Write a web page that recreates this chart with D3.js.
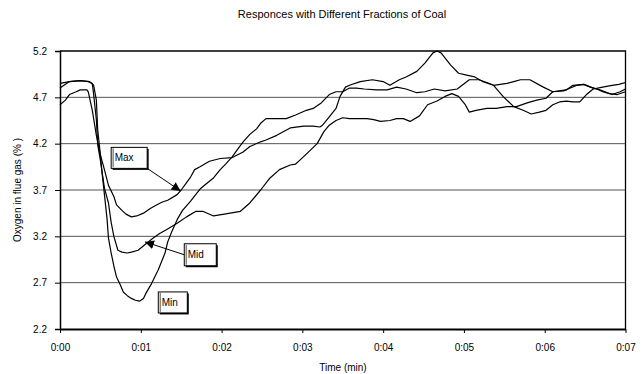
<!DOCTYPE html>
<html>
<head>
<meta charset="utf-8">
<script src="https://cdn.jsdelivr.net/npm/d3@7"></script>
<style>
  body { margin: 0; background: #fff; }
  text { font-family: "Liberation Sans", Arial, sans-serif; fill: #000; }
</style>
</head>
<body>
<div id="chart"></div>
<script>
// [seconds, O2 %]
const maxSeries = [[0,4.62],[4,4.67],[7,4.73],[12,4.76],[15,4.78],[20,4.78],[21,4.76],[24,4.56],[27,4.29],[30,4.08],[33,3.92],[36,3.75],[40,3.63],[42,3.54],[46,3.48],[49,3.44],[53,3.41],[57,3.42],[62,3.45],[67,3.50],[72,3.54],[76,3.57],[80,3.59],[87,3.65],[90,3.70],[94,3.78],[97,3.84],[100,3.92],[104,3.95],[111,4.01],[119,4.04],[128,4.05],[136,4.11],[141,4.17],[149,4.22],[153,4.24],[161,4.29],[171,4.37],[181,4.39],[188,4.39],[193,4.38],[195,4.40],[200,4.49],[205,4.58],[208,4.71],[212,4.81],[215,4.83],[223,4.87],[232,4.89],[240,4.87],[245,4.83],[252,4.89],[257,4.92],[265,4.98],[271,5.07],[277,5.18],[280,5.20],[283,5.18],[290,5.05],[296,4.96],[302,4.94],[308,4.92],[314,4.87],[322,4.83],[329,4.71],[337,4.60],[344,4.56],[350,4.52],[356,4.54],[361,4.56],[366,4.62],[371,4.65],[376,4.66],[381,4.65],[386,4.65],[391,4.73],[396,4.79],[403,4.81],[410,4.83],[415,4.84],[420,4.86]];

const midSeries = [[0,4.85],[7,4.87],[15,4.88],[21,4.87],[24,4.85],[25,4.73],[27,4.46],[28,4.19],[30,4.02],[31,3.92],[33,3.72],[36,3.56],[38,3.35],[40,3.20],[43,3.05],[46,3.03],[50,3.02],[53,3.03],[58,3.05],[63,3.11],[69,3.18],[74,3.23],[79,3.27],[87,3.34],[94,3.41],[101,3.47],[106,3.47],[114,3.42],[122,3.44],[134,3.47],[141,3.56],[149,3.70],[156,3.83],[163,3.92],[171,3.97],[175,3.98],[178,4.02],[186,4.13],[191,4.20],[196,4.33],[200,4.40],[205,4.45],[210,4.48],[215,4.47],[228,4.47],[233,4.46],[238,4.44],[245,4.45],[250,4.47],[255,4.47],[260,4.44],[267,4.50],[273,4.62],[280,4.66],[286,4.71],[291,4.74],[296,4.71],[301,4.62],[304,4.54],[309,4.56],[317,4.58],[324,4.58],[332,4.60],[339,4.60],[347,4.64],[354,4.67],[361,4.69],[366,4.76],[374,4.77],[379,4.80],[384,4.83],[389,4.84],[394,4.81],[399,4.79],[403,4.76],[408,4.74],[414,4.73],[420,4.76]];

const minSeries = [[0,4.80],[7,4.87],[15,4.88],[22,4.87],[25,4.83],[27,4.67],[28,4.35],[30,4.08],[31,3.92],[33,3.65],[35,3.38],[36,3.18],[38,3.02],[40,2.88],[42,2.76],[45,2.67],[47,2.60],[50,2.56],[53,2.53],[56,2.51],[59,2.50],[62,2.53],[64,2.59],[68,2.69],[73,2.84],[78,3.02],[80,3.14],[83,3.25],[87,3.38],[91,3.48],[97,3.58],[104,3.71],[108,3.76],[114,3.83],[119,3.92],[123,3.98],[128,4.06],[132,4.14],[136,4.22],[141,4.30],[146,4.36],[149,4.42],[153,4.47],[160,4.47],[168,4.47],[175,4.51],[183,4.56],[188,4.58],[194,4.64],[200,4.73],[205,4.76],[210,4.76],[215,4.80],[220,4.80],[226,4.79],[235,4.78],[243,4.78],[250,4.81],[257,4.79],[265,4.75],[271,4.76],[278,4.79],[286,4.77],[295,4.79],[304,4.89],[311,4.89],[317,4.86],[322,4.83],[332,4.85],[337,4.87],[342,4.89],[349,4.89],[359,4.81],[366,4.76],[376,4.78],[381,4.83],[389,4.84],[396,4.80],[401,4.78],[410,4.73],[416,4.76],[420,4.79]];

const yTicks = [2.2, 2.7, 3.2, 3.7, 4.2, 4.7, 5.2];
const xTicks = [0, 60, 120, 180, 240, 300, 360, 420];
const xTickLabels = ["0:00", "0:01", "0:02", "0:03", "0:04", "0:05", "0:06", "0:07"];

const title = "Responces with Different Fractions of Coal";
const yTitle = "Oxygen in flue gas (% )";
const xTitle = "Time (min)";

// callouts: box corner and arrow tip in data units
const callouts = [
  { label: "Max", box: [38, 4.16], w: 36, h: 21, from: "br", tip: [89.6, 3.69] },
  { label: "Mid", box: [92.3, 3.12], w: 32, h: 22, from: "lm", tip: [63.1, 3.14] },
  { label: "Min", box: [73, 2.60], w: 29, h: 21, from: null, tip: null }
];

const width = 642, height = 374;
const margin = { top: 51, right: 16.5, bottom: 45, left: 60 };

const svg = d3.select("#chart").append("svg")
  .attr("width", width)
  .attr("height", height);

const x = d3.scaleLinear().domain([0, 420]).range([margin.left, width - margin.right]);
const y = d3.scaleLinear().domain([2.2, 5.2]).range([height - margin.bottom, margin.top]);

// gridlines
svg.append("g")
  .selectAll("line")
  .data(yTicks.slice(1, -1))
  .enter().append("line")
  .attr("x1", x(0)).attr("x2", x(420))
  .attr("y1", d => y(d)).attr("y2", d => y(d))
  .attr("stroke", "#555")
  .attr("stroke-width", 1);

// frame top/right
svg.append("path")
  .attr("d", `M${x(0)},${y(5.2)}H${x(420)}V${y(2.2)}`)
  .attr("fill", "none")
  .attr("stroke", "#000")
  .attr("stroke-width", 1.3);

// y axis
const yAxis = svg.append("g")
  .attr("transform", `translate(${x(0)},0)`)
  .call(d3.axisLeft(y).tickValues(yTicks).tickFormat(d3.format(".1f")).tickSize(5).tickPadding(8));
yAxis.select(".domain").attr("stroke-width", 1.5);
yAxis.selectAll("text").attr("font-size", 10).attr("font-family", "Liberation Sans, Arial, sans-serif");

// x axis
const xAxis = svg.append("g")
  .attr("transform", `translate(0,${y(2.2)})`)
  .call(d3.axisBottom(x).tickValues(xTicks).tickFormat((d, i) => xTickLabels[i]).tickSize(4).tickSizeOuter(0).tickPadding(11));
xAxis.select(".domain").attr("stroke-width", 2.2);
xAxis.selectAll("text").attr("font-size", 10).attr("font-family", "Liberation Sans, Arial, sans-serif");

// series
const line = d3.line().x(d => x(d[0])).y(d => y(d[1]));
svg.append("g")
  .selectAll("path")
  .data([maxSeries, midSeries, minSeries])
  .enter().append("path")
  .attr("d", line)
  .attr("fill", "none")
  .attr("stroke", "#000")
  .attr("stroke-width", 1.2)
  .attr("stroke-linejoin", "round");

// titles
svg.append("text")
  .attr("x", 342).attr("y", 18)
  .attr("text-anchor", "middle")
  .attr("font-size", 11)
  .text(title);

svg.append("text")
  .attr("x", 343).attr("y", 371)
  .attr("text-anchor", "middle")
  .attr("font-size", 10)
  .text(xTitle);

svg.append("text")
  .attr("transform", `translate(21,${y(3.7)}) rotate(-90)`)
  .attr("text-anchor", "middle")
  .attr("font-size", 10)
  .text(yTitle);

// callouts
svg.append("defs").append("marker")
  .attr("id", "arrow")
  .attr("viewBox", "0 0 10 10")
  .attr("refX", 10).attr("refY", 5)
  .attr("markerWidth", 9).attr("markerHeight", 9)
  .attr("markerUnits", "userSpaceOnUse")
  .attr("orient", "auto")
  .append("path").attr("d", "M0,0L10,5L0,10z").attr("fill", "#000");

const co = svg.append("g").selectAll("g")
  .data(callouts)
  .enter().append("g");

co.filter(d => d.tip).append("line")
  .attr("x1", d => d.from === "br" ? x(d.box[0]) + d.w : x(d.box[0]))
  .attr("y1", d => d.from === "br" ? y(d.box[1]) + d.h : y(d.box[1]) + d.h / 2)
  .attr("x2", d => x(d.tip[0]))
  .attr("y2", d => y(d.tip[1]))
  .attr("stroke", "#000")
  .attr("stroke-width", 1)
  .attr("marker-end", "url(#arrow)");

co.append("rect")
  .attr("x", d => x(d.box[0]) + 1.5)
  .attr("y", d => y(d.box[1]) + 1.5)
  .attr("width", d => d.w)
  .attr("height", d => d.h)
  .attr("fill", "#000");

co.append("rect")
  .attr("x", d => x(d.box[0]))
  .attr("y", d => y(d.box[1]))
  .attr("width", d => d.w)
  .attr("height", d => d.h)
  .attr("fill", "#fff")
  .attr("stroke", "#000")
  .attr("stroke-width", 1);

co.append("line")
  .attr("x1", d => x(d.box[0]) + 2).attr("x2", d => x(d.box[0]) + 2)
  .attr("y1", d => y(d.box[1]) + 1).attr("y2", d => y(d.box[1]) + d.h - 1)
  .attr("stroke", "#888")
  .attr("stroke-width", 1.5);

co.append("text")
  .attr("x", d => x(d.box[0]) + 3.5)
  .attr("y", d => y(d.box[1]) + 14)
  .attr("font-size", 10)
  .text(d => d.label);
</script>
</body>
</html>
